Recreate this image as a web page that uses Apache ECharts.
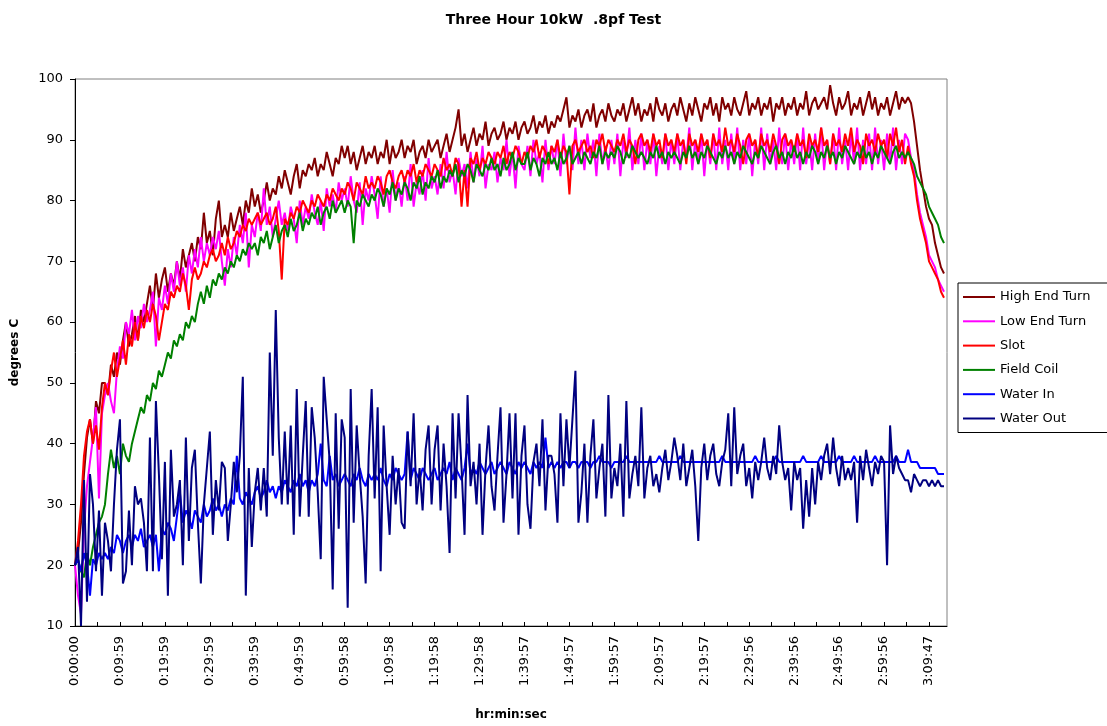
<!DOCTYPE html>
<html><head><meta charset="utf-8">
<script src="https://cdn.jsdelivr.net/npm/echarts@6/dist/echarts.min.js"></script>
<style>html,body{margin:0;padding:0;background:#fff}#c{width:1107px;height:726px}</style>
</head><body><div id="c"></div>
<script>
// time labels, one every 30 samples (sample period ~20 s)
const tickLabels = ["0:00:00","0:09:59","0:19:59","0:29:59","0:39:59","0:49:59","0:59:58","1:09:58","1:19:58","1:29:58","1:39:57","1:49:57","1:59:57","2:09:57","2:19:57","2:29:56","2:39:56","2:49:56","2:59:56","3:09:47"];
const seriesNames = ["High End Turn","Low End Turn","Slot","Field Coil","Water In","Water Out"];

// readings at every second sample
const highEndTurn = [
20,22,27,35,41,44,40,47,45,50, 50,48,53,51,55,53,57,60,56,58,
61,57,62,60,63,66,62,68,64,67, 69,65,68,66,70,67,72,69,71,73,
70,74,72,78,73,75,71,77,80,74, 76,74,78,75,77,79,76,80,78,82,
79,81,78,80,83,80,82,81,84,82, 85,83,81,84,86,82,85,84,86,85,
87,84,86,85,88,86,84,87,86,89, 87,89,86,88,85,87,89,86,88,87,
89,86,88,87,90,86,89,87,88,90, 87,89,88,90,86,88,89,87,90,88,
89,90,87,89,91,88,90,92,95,89, 91,88,90,92,89,91,90,93,89,91,
92,90,91,93,90,92,91,93,90,92, 93,91,92,94,91,93,92,94,91,93,
92,94,93,95,97,92,94,93,95,92, 94,95,93,96,92,94,95,93,96,94,
93,95,94,96,93,95,97,94,96,93, 95,94,96,93,97,95,94,96,93,95,
96,94,97,95,93,96,94,97,95,93, 96,95,97,94,96,93,97,95,96,94,
97,95,94,96,98,94,96,95,97,94, 96,95,97,93,96,95,97,94,96,95,
97,94,96,95,98,94,96,97,95,96, 97,95,99,96,94,97,95,96,98,94,
96,95,97,94,96,98,95,97,94,96, 95,97,94,96,98,95,97,96,97,96,
93,89,85,82,79,77,76,73,71,69, 68];
const lowEndTurn = [
20,15,12,26,33,37,41,46,31,45, 48,50,47,45,52,56,54,60,58,62,
57,61,59,63,60,62,65,56,64,62, 66,63,68,65,70,66,69,65,71,68,
72,69,74,70,73,71,74,72,75,70, 66,72,69,74,71,76,73,78,69,76,
74,78,75,82,76,79,74,77,80,76, 78,75,79,77,73,80,76,79,77,81,
78,76,80,75,82,79,81,78,83,80, 82,79,84,80,78,83,76,82,80,84,
81,77,84,79,82,78,85,80,83,79, 84,80,86,79,83,81,85,80,87,82,
84,81,86,82,88,83,85,81,87,84, 86,82,88,83,87,84,89,82,86,85,
88,83,87,85,90,84,88,82,89,86, 85,89,84,90,86,88,83,90,85,89,
86,90,84,91,86,89,85,92,86,90, 85,91,87,90,84,91,86,89,85,90,
86,91,84,90,87,92,85,90,86,91, 85,90,86,91,84,89,86,91,85,90,
86,91,85,90,87,92,85,90,86,91, 84,90,86,91,85,92,86,90,85,91,
86,92,85,90,86,91,84,90,86,92, 85,91,86,90,85,92,86,91,85,90,
86,91,85,92,86,90,85,91,86,92, 85,90,86,91,85,92,86,90,85,91,
86,92,85,90,86,91,85,92,86,90, 85,91,86,92,85,90,86,91,90,87,
85,81,78,76,74,71,70,69,67,66, 65];
const slot = [
20,24,30,38,42,44,40,43,39,46, 50,48,52,55,51,54,57,53,58,56,
60,57,61,59,62,60,63,61,57,60, 63,62,65,64,66,65,68,66,62,67,
69,67,68,70,69,71,72,70,71,73, 71,74,72,73,75,74,76,75,77,76,
77,78,76,77,78,76,77,79,75,67, 77,76,78,77,79,78,80,79,78,80,
79,81,80,79,81,80,82,81,80,82, 81,83,82,80,83,82,81,84,82,83,
82,84,83,81,84,85,83,82,84,85, 83,85,84,86,83,85,84,86,85,84,
86,85,84,87,85,86,84,87,86,79, 85,79,87,86,88,85,87,86,88,87,
86,88,87,89,86,88,87,89,88,86, 88,87,89,88,90,87,89,88,86,89,
88,90,87,89,88,81,89,90,88,89, 90,88,89,87,90,89,91,88,90,89,
88,90,89,91,88,90,89,86,90,91, 89,90,88,91,89,90,87,91,89,90,
88,91,89,90,86,91,89,90,88,91, 89,90,87,91,89,90,88,92,89,90,
88,91,89,86,90,91,89,90,87,91, 89,90,88,91,89,86,90,91,89,90,
88,91,89,90,87,91,89,90,88,92, 89,90,86,91,89,90,88,91,89,92,
88,90,89,86,91,89,90,88,91,89, 90,87,91,89,92,88,90,86,89,86,
84,80,77,75,73,70,69,68,67,65, 64];
const fieldCoil = [
20,21,19,18,22,20,23,25,27,28, 30,35,39,36,38,35,40,38,37,40,
42,44,46,45,48,47,50,49,52,51, 53,55,54,57,56,58,57,60,59,61,
60,63,65,63,66,64,67,66,68,67, 69,68,70,69,71,70,72,71,73,72,
73,71,74,73,75,72,74,76,73,75, 76,74,77,75,76,78,75,77,76,78,
77,79,76,78,79,77,80,78,79,80, 78,80,79,73,80,79,81,80,79,81,
80,82,81,79,82,81,83,80,82,81, 83,82,80,83,82,84,81,83,82,84,
83,85,82,84,83,85,84,86,83,85, 84,86,85,83,86,85,84,86,85,87,
85,86,84,87,85,86,88,85,87,86, 86,88,85,87,86,84,87,86,88,86,
87,85,88,86,87,89,86,87,88,86, 88,87,86,88,87,89,86,88,87,88,
87,89,88,86,88,87,89,88,87,88, 87,86,88,87,89,87,88,86,88,87,
88,87,86,88,87,89,87,88,86,88, 87,89,88,87,86,88,87,89,87,88,
86,88,87,89,88,87,86,88,87,89, 88,87,86,88,89,87,88,86,88,87,
89,87,88,86,88,87,89,88,86,88, 87,89,87,88,86,88,87,89,88,87,
86,88,87,89,87,88,86,88,87,89, 88,87,86,88,89,87,88,87,88,87,
86,84,83,82,81,79,78,77,76,74, 73];
const waterIn = [
20,21,19,22,20,15,21,20,22,21, 22,21,23,22,25,24,22,24,25,23,
25,24,26,23,24,25,23,25,19,26, 25,27,26,24,28,32,27,29,28,26,
29,28,27,30,28,29,31,29,30,28, 30,29,31,30,38,31,30,32,31,30,
32,33,31,32,34,32,33,31,33,32, 34,33,32,34,33,35,33,34,32,34,
33,35,40,34,33,38,34,35,33,34, 35,34,33,35,34,36,34,33,35,34,
35,34,36,34,33,35,34,36,35,34, 35,42,34,36,35,34,36,35,34,35,
36,34,35,36,35,37,34,36,35,34, 36,40,35,36,35,37,36,35,36,37,
35,36,37,36,35,37,36,35,37,36, 37,36,35,37,36,37,36,41,36,37,
36,37,36,37,37,36,37,37,36,37, 37,37,36,37,37,38,37,37,37,36,
37,37,37,37,38,37,37,37,37,37, 37,37,37,37,37,38,37,37,37,37,
37,37,38,37,37,37,37,37,37,37, 37,37,37,37,37,37,38,37,37,37,
37,37,37,37,37,37,37,38,37,37, 37,37,37,37,38,37,37,37,37,37,
37,37,37,38,37,37,37,37,37,38, 37,37,37,37,37,38,37,37,37,37,
38,37,37,37,37,37,37,38,37,37, 37,37,37,37,38,37,37,37,39,37,
37,37,36,36,36,36,36,36,35,35, 35];
const waterOut = [
20,23,10,34,14,35,30,19,29,15, 27,24,19,30,39,44,17,19,29,20,
33,30,31,27,19,41,19,47,35,21, 37,15,39,28,30,34,20,41,24,36,
39,27,17,30,36,42,25,34,29,37, 36,24,30,37,32,38,51,15,36,23,
32,36,29,36,28,55,38,62,41,30, 42,30,43,25,49,28,38,47,28,46,
41,32,21,51,44,37,16,45,26,44, 41,13,49,27,43,35,28,17,38,49,
31,46,19,43,33,25,38,30,36,27, 26,42,33,45,30,36,29,39,43,30,
39,43,29,40,33,22,45,31,45,36, 25,48,33,37,30,40,25,36,43,33,
29,38,46,27,35,45,31,45,25,38, 43,30,26,37,40,33,44,29,38,38,
35,27,45,33,44,36,44,52,27,32, 40,27,38,44,31,36,40,28,48,31,
36,33,40,28,47,31,35,38,33,46, 31,36,38,33,35,32,36,39,34,37,
41,38,34,40,33,36,39,33,24,36, 40,34,38,40,35,33,37,39,45,33,
46,35,38,40,33,36,31,37,34,37, 41,36,34,38,35,43,37,34,36,29,
37,34,36,26,34,28,36,30,37,34, 38,40,35,41,36,33,38,34,36,34,
37,27,38,34,39,36,33,37,35,38, 37,20,43,35,38,36,35,34,34,32,
35,34,33,34,34,33,34,33,34,33, 33];

const SAMPLE_STEP = 2;        // samples between stored readings
const SAMPLES_PER_LABEL = 30; // samples between time labels
const AXIS_END = 582;         // last sample slot on the axis

const FONT = 'DejaVu Sans';
const colors = ['#800000','#FF00FF','#FF0000','#008000','#0000FF','#000080'];
const values = [highEndTurn, lowEndTurn, slot, fieldCoil, waterIn, waterOut];

const chart = echarts.init(document.getElementById('c'), null, {renderer:'canvas'});
chart.setOption({
  animation: false,
  backgroundColor: '#ffffff',
  title: {
    text: 'Three Hour 10kW  .8pf Test', left: 'center', top: 8,
    textStyle: {fontFamily: FONT, fontSize: 14, fontWeight: 'bold', color: '#000'}
  },
  grid: {left: 75, top: 79, right: 160, bottom: 91, show: true, borderColor: '#808080', borderWidth: 1},
  legend: {
    orient: 'vertical', left: 958, top: 283,
    padding: [7, 20, 7, 5], itemGap: 10.3,
    itemWidth: 32, itemHeight: 2, icon: 'rect',
    borderColor: '#000', borderWidth: 1, backgroundColor: '#fff',
    textStyle: {fontFamily: FONT, fontSize: 13, color: '#000', lineHeight: 14},
    data: seriesNames
  },
  xAxis: {
    type: 'value', min: 0, max: AXIS_END, interval: SAMPLES_PER_LABEL / 2,
    name: 'hr:min:sec', nameLocation: 'middle', nameGap: 83,
    nameTextStyle: {fontFamily: FONT, fontSize: 12, fontWeight: 'bold', color: '#000'},
    axisLine: {show: true, lineStyle: {color: '#000', width: 1}},
    axisTick: {show: true, inside: true, length: 4, lineStyle: {color: '#000'}},
    axisLabel: {
      rotate: 90, margin: 10, fontFamily: FONT, fontSize: 13, color: '#000',
      showMaxLabel: false,
      formatter: v => (v % SAMPLES_PER_LABEL === 0 && tickLabels[v / SAMPLES_PER_LABEL]) ? tickLabels[v / SAMPLES_PER_LABEL] : ''
    },
    splitLine: {show: false}
  },
  yAxis: {
    type: 'value', min: 10, max: 100, interval: 10,
    name: 'degrees C', nameLocation: 'middle', nameGap: 54,
    nameTextStyle: {fontFamily: FONT, fontSize: 12, fontWeight: 'bold', color: '#000'},
    axisLine: {show: true, lineStyle: {color: '#000', width: 1}},
    axisTick: {show: true, inside: false, length: 5, lineStyle: {color: '#000'}},
    axisLabel: {margin: 12, fontFamily: FONT, fontSize: 13, color: '#000'},
    splitLine: {show: false}
  },
  series: seriesNames.map((name, s) => ({
    name: name, type: 'line', color: colors[s],
    symbol: 'none', showSymbol: false,
    lineStyle: {width: 2, color: colors[s]},
    emphasis: {disabled: true},
    data: values[s].map((v, i) => [i * SAMPLE_STEP, v])
  }))
});
</script></body></html>
